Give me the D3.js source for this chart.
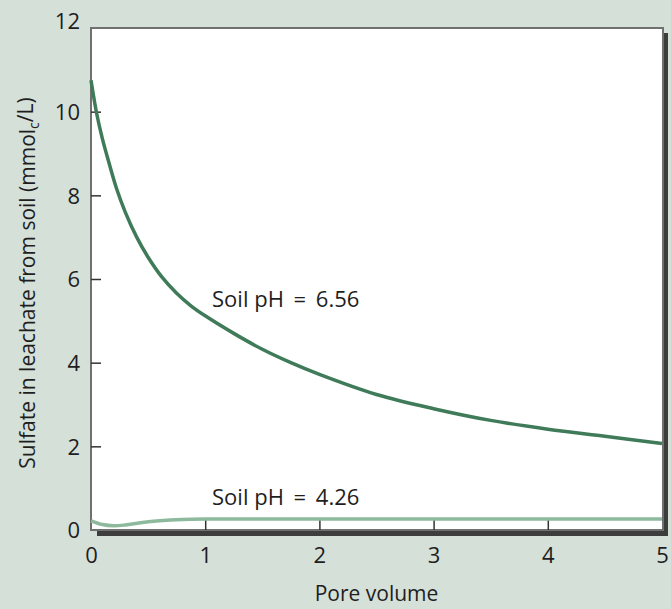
<!DOCTYPE html>
<html>
<head>
<meta charset="utf-8">
<script src="https://cdn.jsdelivr.net/npm/d3@7"></script>
<style>
  body { margin: 0; background: #d5e0d9; }
  svg { display: block; }
  text { font-family: "Open Sans", Lato, sans-serif; fill: #1e1e1e; }
</style>
</head>
<body>
<script>
// pore volume / sulfate readings, pH 6.56 soil
var highPoreVol = [0, 0.05, 0.1, 0.15, 0.225, 0.3, 0.4, 0.5, 0.62, 0.75, 0.875, 1.0, 1.25, 1.5, 1.75, 2.0, 2.5, 3.0, 3.5, 4.0, 4.5, 5.0];
var highSulfate = [10.75, 9.95, 9.35, 8.85, 8.15, 7.6, 7.0, 6.52, 6.05, 5.66, 5.36, 5.12, 4.7, 4.32, 4.0, 3.72, 3.24, 2.9, 2.62, 2.41, 2.24, 2.07];

// pH 4.26 soil
var lowPoreVol = [0, 0.1, 0.2, 0.3, 0.45, 0.6, 0.8, 1.0, 2.0, 3.0, 4.0, 5.0];
var lowSulfate = [0.22, 0.13, 0.1, 0.12, 0.18, 0.22, 0.25, 0.26, 0.26, 0.26, 0.26, 0.26];

var xTicks = [0, 1, 2, 3, 4, 5];
var yTicks = [0, 2, 4, 6, 8, 10, 12];

var labelPh = ["6.56", "4.26"];
var labelX = [1.06, 1.06];
var labelY = [5.32, 0.6];

var W = 671, H = 609;
var margin = {top: 28, right: 9, bottom: 79, left: 91};

var x = d3.scaleLinear().domain([0, 5]).range([margin.left, W - margin.right]);
var y = d3.scaleLinear().domain([0, 12]).range([H - margin.bottom, margin.top]);

var svg = d3.select("body").append("svg")
    .attr("width", W)
    .attr("height", H);

svg.append("rect")
    .attr("width", W).attr("height", H)
    .attr("fill", "#d5e0d9");

// drop shadow + plot frame
svg.append("rect")
    .attr("x", x(0) + 6).attr("y", y(12) + 5)
    .attr("width", x(5) - x(0)).attr("height", y(0) - y(12) + 1)
    .attr("fill", "#3d3d3d");

svg.append("rect")
    .attr("x", x(0)).attr("y", y(12))
    .attr("width", x(5) - x(0) + 1).attr("height", y(0) - y(12))
    .attr("fill", "#fff")
    .attr("stroke", "#707070")
    .attr("stroke-width", 2);

var yAxis = d3.axisLeft(y).tickValues(yTicks).tickFormat(d3.format("d")).tickSize(-10).tickPadding(11);
var gy = svg.append("g")
    .attr("transform", "translate(" + x(0) + ",0)")
    .call(yAxis);
gy.select(".domain").remove();
gy.selectAll(".tick line").attr("stroke", "#333").attr("stroke-width", 1.5);
gy.selectAll(".tick text")
    .style("font-size", "22px")
    .style("font-family", "'Open Sans', sans-serif")
    .attr("fill", "#1e1e1e")
    .attr("dy", function (d) { return d === 12 ? "0em" : "0.36em"; });
gy.selectAll(".tick").filter(function (d) { return d === 12 || d === 0; }).select("line").remove();

var xAxis = d3.axisBottom(x).tickValues(xTicks).tickFormat(d3.format("d")).tickSize(-12).tickPadding(17);
var gx = svg.append("g")
    .attr("transform", "translate(0," + y(0) + ")")
    .call(xAxis);
gx.select(".domain").remove();
gx.selectAll(".tick line").attr("stroke", "#333").attr("stroke-width", 1.5);
gx.selectAll(".tick text")
    .style("font-size", "22px")
    .style("font-family", "'Open Sans', sans-serif")
    .attr("fill", "#1e1e1e");
gx.selectAll(".tick").filter(function (d) { return d === 0 || d === 5; }).select("line").remove();

var line = d3.line()
    .x(function (d) { return x(d[0]); })
    .y(function (d) { return y(d[1]); })
    .curve(d3.curveCatmullRom.alpha(0.5));

svg.append("path")
    .datum(d3.zip(lowPoreVol, lowSulfate))
    .attr("d", line)
    .attr("fill", "none")
    .attr("stroke", "#8db99c")
    .attr("stroke-width", 3.5);

svg.append("path")
    .datum(d3.zip(highPoreVol, highSulfate))
    .attr("d", line)
    .attr("fill", "none")
    .attr("stroke", "#3f7b59")
    .attr("stroke-width", 3.5);

// curve labels, with extra room round the "="
var notes = svg.selectAll("text.note")
    .data(labelPh)
    .enter().append("text")
    .attr("class", "note")
    .attr("x", function (d, i) { return x(labelX[i]); })
    .attr("y", function (d, i) { return y(labelY[i]); })
    .style("font-size", "22px");
notes.append("tspan").text("Soil pH ");
notes.append("tspan").attr("dx", 4).text("= ");
notes.append("tspan").attr("dx", 4).text(function (d) { return d; });

// axis titles
svg.append("text")
    .attr("x", (x(0) + x(5)) / 2)
    .attr("y", 601)
    .attr("text-anchor", "middle")
    .style("font-size", "21px")
    .text("Pore volume");

var yt = svg.append("text")
    .attr("transform", "translate(35," + 283 + ") rotate(-90)")
    .attr("text-anchor", "middle")
    .style("font-size", "21px");
yt.append("tspan").text("Sulfate in leachate from soil (mmol");
yt.append("tspan").attr("dy", "0.3em").style("font-size", "14px").text("c");
yt.append("tspan").attr("dy", "-0.3em").text("/L)");
</script>
</body>
</html>
